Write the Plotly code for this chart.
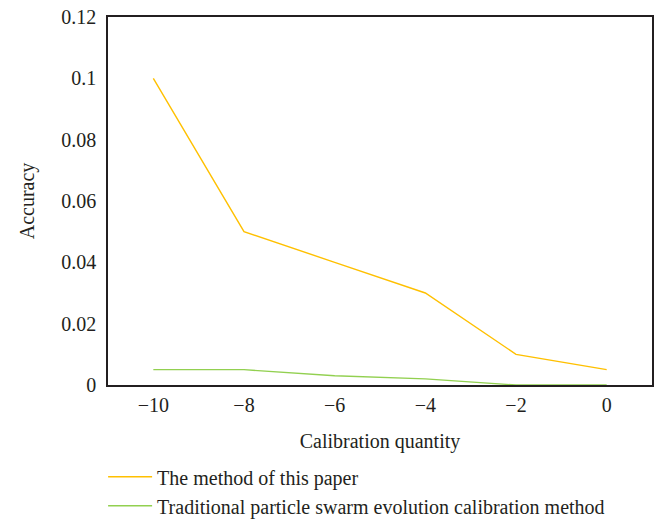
import plotly.graph_objects as go

x_vals = [-10, -8, -6, -4, -2, 0]
paper_method = [0.1, 0.05, 0.04, 0.03, 0.01, 0.005]
traditional_method = [0.005, 0.005, 0.003, 0.002, 0.0, 0.0]
series_names = ["The method of this paper", "Traditional particle swarm evolution calibration method"]
x_ticks = [-10, -8, -6, -4, -2, 0]
x_tick_text = ["\u221210", "\u22128", "\u22126", "\u22124", "\u22122", "0"]
y_ticks = [0, 0.02, 0.04, 0.06, 0.08, 0.1, 0.12]
y_tick_text = ["0", "0.02", "0.04", "0.06", "0.08", "0.1", "0.12"]

fig = go.Figure()
fig.add_trace(go.Scatter(x=x_vals, y=paper_method, mode="lines", name=series_names[0],
                         line=dict(color="#FFC000", width=1.4)))
fig.add_trace(go.Scatter(x=x_vals, y=traditional_method, mode="lines", name=series_names[1],
                         line=dict(color="#92D050", width=1.4)))

font = dict(family="Liberation Serif, DejaVu Serif, serif", size=20, color="#231f20")
fig.update_layout(
    width=660, height=519,
    margin=dict(l=108, r=8, t=17, b=134),
    paper_bgcolor="white", plot_bgcolor="white",
    font=font,
    showlegend=True,
    legend=dict(x=-0.009, xanchor="left", xref="paper", y=0.119, yanchor="top", yref="container",
                font=font, bgcolor="rgba(0,0,0,0)", tracegroupgap=0, itemwidth=44),
    xaxis=dict(range=[-11, 1], tickmode="array", tickvals=x_ticks, ticktext=x_tick_text,
               showgrid=False, zeroline=False, showline=True, linecolor="#231f20", linewidth=1.5,
               mirror=True, ticks="", automargin=False, tickfont=font,
               title=dict(text="Calibration quantity", standoff=19, font=font),
               ticklabelstandoff=1),
    yaxis=dict(range=[0, 0.12], tickmode="array", tickvals=y_ticks, ticktext=y_tick_text,
               showgrid=False, zeroline=False, showline=True, linecolor="#231f20", linewidth=1.5,
               mirror=True, ticks="", automargin=False, tickfont=font,
               title=dict(text="Accuracy", standoff=21, font=font),
               ticklabelstandoff=6),
)
fig.write_html("out.html", config={"displayModeBar": False},
               post_script="document.body.style.margin='0';document.body.style.overflow='hidden';")
